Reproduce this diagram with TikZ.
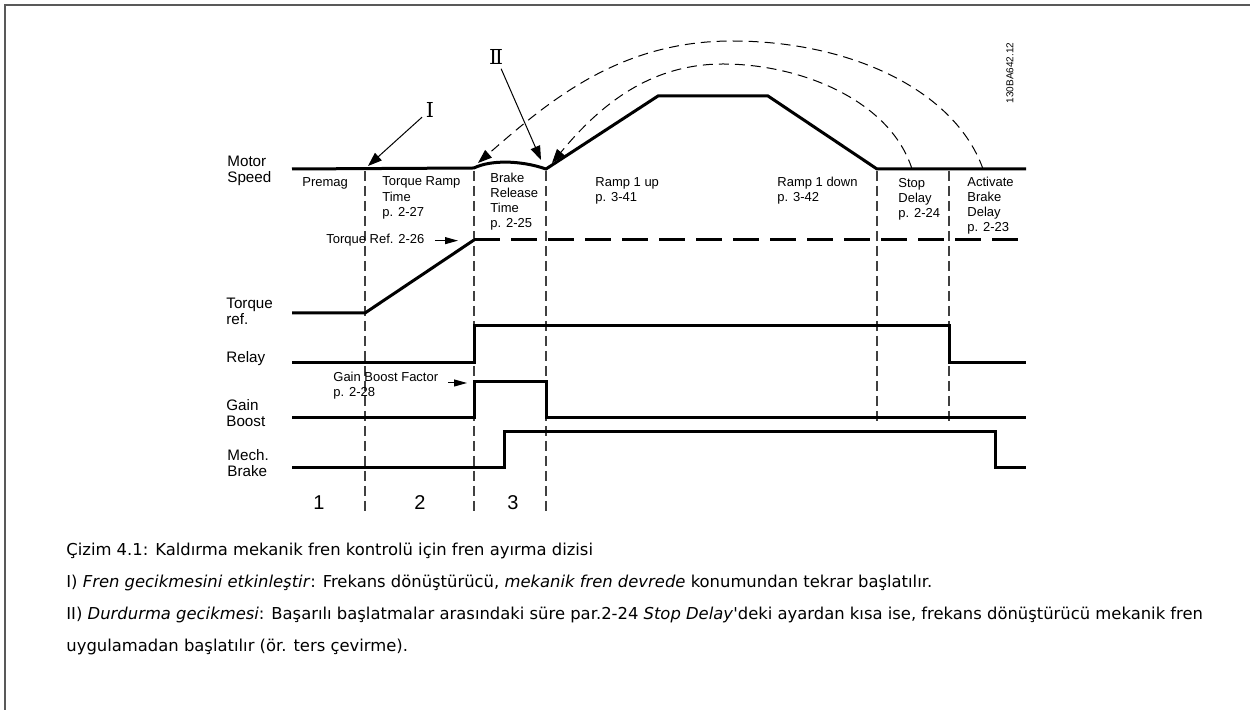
\documentclass[tikz,border=0pt]{standalone}
\usepackage{fontspec}
\setmainfont{Liberation Sans}
\newfontfamily\capfont{DejaVu Sans}
\newfontfamily\romfont{DejaVu Serif}
\usetikzlibrary{arrows.meta}

\begin{document}
\begin{tikzpicture}[x=0.5pt,y=-0.5pt,>={Triangle[length=7pt,width=5pt]},
  sig/.style={line width=1.5pt,line join=miter},
  sigdash/.style={line width=1.5pt,dash pattern=on 13pt off 5.5pt},
  phase/.style={line width=0.6pt,black!75,dash pattern=on 5pt off 2.5pt},
  loopback/.style={line width=0.5pt,dash pattern=on 5pt off 3pt,->},
  pointer/.style={line width=0.5pt,->,shorten <=1pt},
  small/.style={line width=0.5pt,-{Triangle[length=6.5pt,width=3.5pt]}},
  axlbl/.style={anchor=base west,inner sep=0pt,align=left,
    font=\fontsize{7.6}{8.3}\selectfont},
  lbl/.style={anchor=base west,inner sep=0pt,align=left,
    font=\fontsize{6.5}{7.65}\selectfont},
  phnum/.style={inner sep=0pt,font=\fontsize{10}{10}\selectfont},
  rom/.style={inner sep=1pt,font=\romfont\fontsize{10.3}{10}\selectfont},
  captxt/.style={anchor=base west,inner sep=0pt,font=\capfont\fontsize{8.2}{10}\selectfont}]
  \useasboundingbox (0,0) rectangle (1250,710);
  % ---- frame ----
  \draw[black!65,line width=1pt] (1250,5) -- (5,5) -- (5,710);
  % ---- signal names (placed at the last baseline) ----
  \node[axlbl] (motor) at (227,183) {Motor\\Speed};
  \node[axlbl] (tqname) at (226,325) {Torque\\ref.};
  \node[axlbl] (relay) at (226,363) {Relay};
  \node[axlbl] (gain) at (226,427) {Gain\\Boost};
  \node[axlbl] (mech) at (227,477) {Mech.\\Brake};
  % ---- phase borders ----
  \draw[phase] (365,171) -- (365,512);
  \draw[phase] (474,171) -- (474,512);
  \draw[phase] (546,171) -- (546,512);
  \draw[phase] (877,171) -- (877,425);
  \draw[phase] (949,171) -- (949,425);
  \foreach \n/\x in {1/319,2/420,3/513}
    \node[phnum] (ph\n) at (\x,503) {\n};
  % ---- motor speed ----
  \coordinate (brkstart) at (474,168);
  \coordinate (rampstart) at (546,169);
  \coordinate (stoppt) at (912,169);
  \coordinate (actpt) at (983,169);
  \draw[sig] (292,169) -- (brkstart) .. controls (490,160) and (520,160) .. (rampstart)
    -- (658,96) -- (768,96) -- (877,169) -- (1026,169);
  \node[lbl] (premag) at (302,187) {Premag};
  \node[lbl] (tqramp) at (382,216.5) {Torque Ramp\\Time\\p. 2-27};
  \node[lbl] (brkrel) at (490,228) {Brake\\Release\\Time\\p. 2-25};
  \node[lbl] (rampup) at (595,202) {Ramp 1 up\\p. 3-41};
  \node[lbl] (rampdn) at (777,202) {Ramp 1 down\\p. 3-42};
  \node[lbl] (stopdl) at (898,218) {Stop\\Delay\\p. 2-24};
  \node[lbl] (actbrk) at (967,232) {Activate\\Brake\\Delay\\p. 2-23};
  % ---- restart loops ----
  \draw[loopback] (actpt) .. controls (955,90) and (850,41) .. (732,41)
    .. controls (620,41) and (550,100) .. (478,163);
  \draw[loopback] (stoppt) .. controls (890,100) and (800,64) .. (723,64)
    .. controls (650,64) and (600,105) .. (552,163);
  \node[rom] (markI) at (430,110) {I};
  \node[rom] (markII) at (496,57) {Ⅱ};
  \coordinate (tipI) at (368,166);
  \coordinate (tipII) at (541,160);
  \draw[pointer] (markI) -- (tipI);
  \draw[pointer] (markII) -- (tipII);
  \node[rotate=90,inner sep=0pt,font=\fontsize{5}{5}\selectfont] (code)
    at (1010,73) {130BA642.12};
  % ---- torque ref ----
  \draw[sig] (292,313) -- (365,313) -- (474,240);
  \draw[sigdash] (474,240) -- (1026,240);
  \node[lbl] (torqref) at (326,244) {Torque Ref. 2-26};
  \coordinate (tqtip) at (458,240);
  \draw[small,shorten <=5pt] (torqref.east) -- (torqref.east -| tqtip);
  % ---- relay, gain boost, brake ----
  \draw[sig] (292,363) -- (474,363) -- (474,326) -- (949,326) -- (949,363) -- (1026,363);
  \draw[sig] (292,418) -- (474,418) -- (474,382) -- (546,382) -- (546,418) -- (1026,418);
  \draw[sig] (292,468) -- (504,468) -- (504,432) -- (995,432) -- (995,468) -- (1026,468);
  \node[lbl] (gbf) at (333,397) {Gain Boost Factor\\p. 2-28};
  \coordinate (gbtail) at (448,383);
  \coordinate (gbtip) at (467,383);
  \draw[small] (gbtail) -- (gbtip);
  % ---- caption ----
  \node[captxt] (cap1) at (66,556) {Çizim 4.1: Kaldırma mekanik fren kontrolü için fren ayırma dizisi};
  \node[captxt] (cap2) at (66,588) {I) \textit{Fren gecikmesini etkinleştir}: Frekans dönüştürücü,
    \textit{mekanik fren devrede} konumundan tekrar başlatılır.};
  \node[captxt] (cap3) at (66,620) {II) \textit{Durdurma gecikmesi}: Başarılı başlatmalar arasındaki
    süre par.2-24 \textit{Stop Delay}'deki ayardan kısa ise, frekans dönüştürücü mekanik fren};
  \node[captxt] (cap4) at (66,652) {uygulamadan başlatılır (ör. ters çevirme).};
\end{tikzpicture}
\end{document}
